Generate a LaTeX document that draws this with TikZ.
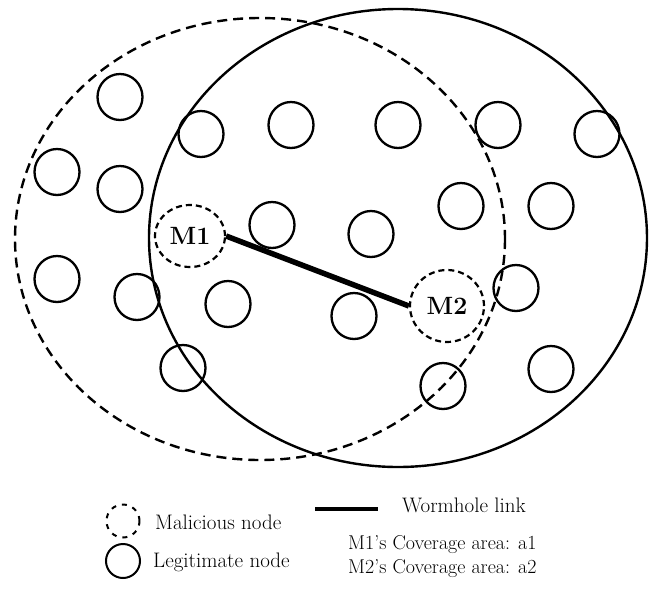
\documentclass[tikz,border=0pt]{standalone}
\usepackage{fontspec}
\usetikzlibrary{shapes.geometric}
\begin{document}
\begin{tikzpicture}[x=1pt,y=-1pt,
  legit/.style={draw,ellipse,minimum width=45pt,minimum height=46pt,inner sep=0pt,line width=2.3pt},
  malic/.style={draw,ellipse,inner sep=0pt,line width=2.2pt,dash pattern=on 6pt off 4pt,font=\fontsize{25}{28}\selectfont\bfseries},
  area/.style={line width=2.4pt},
  legtext/.style={anchor=west,inner sep=0pt,font=\fontsize{21}{23}\selectfont},
  covtext/.style={anchor=west,inner sep=0pt,font=\fontsize{20}{22}\selectfont},
  worm/.style={line width=5.5pt}]
\useasboundingbox (0,0) rectangle (649,590);
% coverage areas
\draw[area,dash pattern=on 10pt off 6pt] (260,239) ellipse [x radius=245, y radius=221];
\draw[area] (398,238) ellipse [x radius=249, y radius=229];
% legitimate nodes
\node[legit] (n1) at (120,97) {};
\node[legit] (n2) at (201,134) {};
\node[legit] (n3) at (291,125) {};
\node[legit] (n4) at (398,125) {};
\node[legit] (n5) at (498,125) {};
\node[legit] (n6) at (597,134) {};
\node[legit] (n7) at (57,172) {};
\node[legit] (n8) at (120,189) {};
\node[legit] (n9) at (461,206) {};
\node[legit] (n10) at (551,206) {};
\node[legit] (n11) at (272,225) {};
\node[legit] (n12) at (371,234) {};
\node[legit] (n13) at (57,279) {};
\node[legit] (n14) at (137,297) {};
\node[legit] (n15) at (228,304) {};
\node[legit] (n16) at (354,316) {};
\node[legit] (n17) at (516,288) {};
\node[legit] (n18) at (183,368) {};
\node[legit] (n19) at (443,386) {};
\node[legit] (n20) at (551,369) {};
% malicious nodes
\node[malic,minimum width=70pt,minimum height=62pt] (m1) at (190,236) {M1};
\node[malic,minimum width=74pt,minimum height=72pt] (m2) at (447,306) {M2};
% wormhole link
\draw[worm] (m1.east) -- (m2.west);
% legend
\node[malic,minimum width=33pt,minimum height=33pt,line width=2pt,dash pattern=on 5pt off 6pt] (lm) at (123,521) {};
\node[legtext] (lmt) at (155,522) {Malicious node};
\node[legit,minimum width=34pt,minimum height=34pt,line width=2pt] (ll) at (123,561) {};
\node[legtext] (llt) at (153,562) {Legitimate node};
\coordinate (w1) at (315,509);
\coordinate (w2) at (378,509);
\draw[line width=4.5pt] (w1) -- (w2);
\node[legtext] (wt) at (402,505) {Wormhole link};
\node[covtext] (c1) at (348,545) {M1's Coverage area: a1};
\node[covtext] (c2) at (348,569) {M2's Coverage area: a2};
\end{tikzpicture}
\end{document}
